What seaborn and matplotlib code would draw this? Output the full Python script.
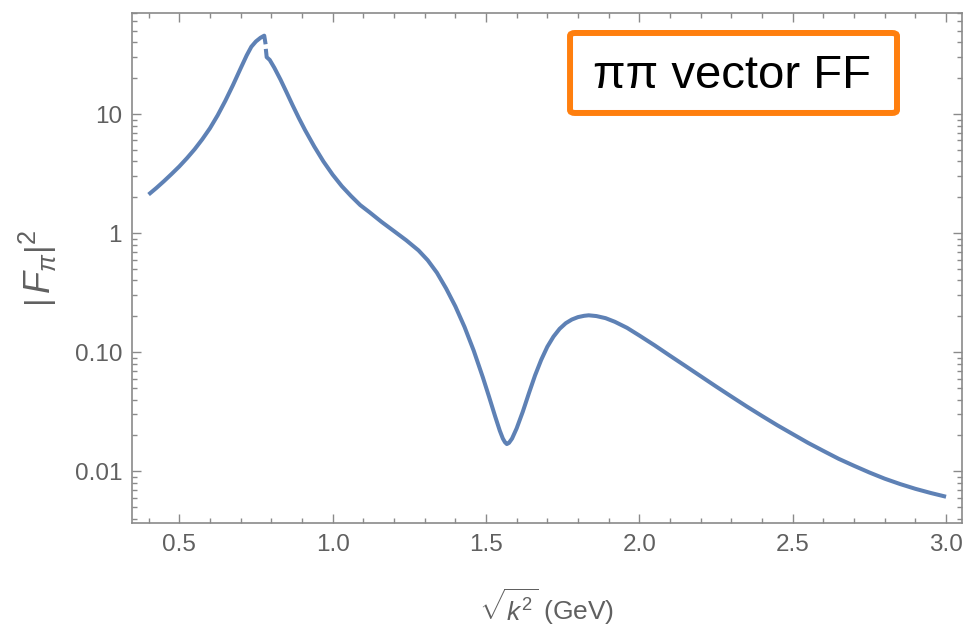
import pandas as pd
import matplotlib
matplotlib.use("Agg")
import matplotlib.pyplot as plt
import matplotlib.ticker as mticker
from matplotlib.patches import FancyBboxPatch
import seaborn as sns

# |F_pi|^2 versus sqrt(k^2) [GeV]; the curve is split at the rho-omega jump
k_rise = [0.400, 0.425, 0.450, 0.475, 0.500, 0.525, 0.550, 0.575, 0.600,
          0.625, 0.650, 0.675, 0.700, 0.720, 0.735, 0.750, 0.765, 0.777,
          0.7815]
ff_rise = [2.11, 2.39, 2.73, 3.14, 3.63, 4.26, 5.06, 6.14, 7.60,
           9.75, 12.9, 17.5, 24.2, 31.2, 36.8, 40.8, 43.8, 45.6,
           38.6]

k_fall = [0.7822, 0.785, 0.795, 0.810, 0.830, 0.850, 0.870, 0.890, 0.910,
          0.940, 0.970, 1.000, 1.030, 1.060, 1.090, 1.120, 1.160, 1.200,
          1.240, 1.280, 1.310, 1.340, 1.370, 1.400, 1.430, 1.460, 1.490,
          1.510, 1.530, 1.545, 1.555, 1.562, 1.568, 1.575, 1.585, 1.600,
          1.620, 1.640, 1.660, 1.680, 1.700, 1.720, 1.740, 1.760, 1.780,
          1.800, 1.820, 1.835, 1.860, 1.890, 1.920, 1.960, 2.000, 2.050,
          2.100, 2.150, 2.200, 2.250, 2.300, 2.350, 2.400, 2.450, 2.500,
          2.550, 2.600, 2.650, 2.700, 2.750, 2.800, 2.850, 2.900, 2.950,
          3.000]
ff_fall = [35.3, 30.1, 28.5, 24.5, 19.5, 15.2, 11.8, 9.25, 7.35,
           5.35, 4.00, 3.10, 2.48, 2.05, 1.72, 1.50, 1.24, 1.04,
           0.871, 0.716, 0.592, 0.465, 0.343, 0.243, 0.163, 0.103, 0.0612,
           0.0422, 0.0288, 0.0219, 0.0188, 0.0175, 0.0169, 0.0173, 0.0188, 0.0229,
           0.0316, 0.0452, 0.0638, 0.0861, 0.111, 0.135, 0.157, 0.175, 0.188,
           0.197, 0.202, 0.204, 0.201, 0.193, 0.180, 0.160, 0.138, 0.114,
           0.0933, 0.0766, 0.0628, 0.0515, 0.0424, 0.0350, 0.0291, 0.0243, 0.0205,
           0.0173, 0.0148, 0.0127, 0.0111, 0.00975, 0.00865, 0.0078, 0.00711, 0.00656,
           0.0061]

y_ticks = [0.01, 0.1, 1, 10]
y_tick_labels = ["0.01", "0.10", "1", "10"]

df = pd.concat([
    pd.DataFrame({"k": k_rise, "ff": ff_rise, "segment": 0}),
    pd.DataFrame({"k": k_fall, "ff": ff_fall, "segment": 1}),
], ignore_index=True)

sns.set_theme(style="ticks")
plt.rcParams["font.family"] = ["Liberation Sans", "DejaVu Sans"]
plt.rcParams["mathtext.fontset"] = "custom"
plt.rcParams["mathtext.rm"] = "Liberation Sans"
plt.rcParams["mathtext.it"] = "Liberation Sans:italic"

frame_col = "#8a8a8a"
text_col = "#606060"
line_col = "#5e81b5"

fig = plt.figure(figsize=(9.65, 6.32), dpi=100)
ax = fig.add_axes([0.1365, 0.1729, 0.8604, 0.8061])

sns.lineplot(data=df, x="k", y="ff", units="segment", estimator=None,
             sort=False, color=line_col, linewidth=2.9, ax=ax,
             solid_capstyle="butt")

ax.set_yscale("log")
ax.set_xlim(0.345, 3.052)
ax.set_ylim(10 ** -2.433, 10 ** 1.847)

ax.xaxis.set_major_locator(mticker.MultipleLocator(0.5))
ax.xaxis.set_minor_locator(mticker.MultipleLocator(0.1))
ax.xaxis.set_major_formatter(mticker.FormatStrFormatter("%.1f"))
ax.set_yticks(y_ticks, y_tick_labels)
ax.yaxis.set_minor_locator(mticker.LogLocator(base=10, subs=range(2, 10)))
ax.yaxis.set_minor_formatter(mticker.NullFormatter())

ax.tick_params(which="both", direction="in", top=True, right=True,
               color=frame_col, labelcolor=text_col, width=1.0)
ax.tick_params(which="major", length=6.5, labelsize=17.5)
ax.tick_params(axis="x", which="major", pad=8)
ax.tick_params(axis="y", which="major", pad=7)
ax.tick_params(which="minor", length=3.5)

for sp in ax.spines.values():
    sp.set_color(frame_col)
    sp.set_linewidth(1.2)

ax.set_xlabel(r"$\sqrt{k^2}$ (GeV)", fontsize=19, color=text_col)
ax.set_ylabel(r"$\left|\,F_\pi\right|^{2}$", fontsize=26, color=text_col)
ax.xaxis.set_label_coords(0.5, -0.125)
ax.yaxis.set_label_coords(-0.088, 0.5)

# label box in the upper right corner
box = FancyBboxPatch((0.5279, 0.8043), 0.3938, 0.157,
                     boxstyle="round,pad=0,rounding_size=0.006",
                     transform=ax.transAxes, facecolor="white",
                     edgecolor="#ff7f0e", linewidth=4.3, zorder=5)
ax.add_patch(box)
ax.text(0.7235, 0.876, "ππ vector FF", transform=ax.transAxes,
        ha="center", va="center", fontsize=34, color="black", zorder=6)

fig.savefig("out.png", dpi=100)
